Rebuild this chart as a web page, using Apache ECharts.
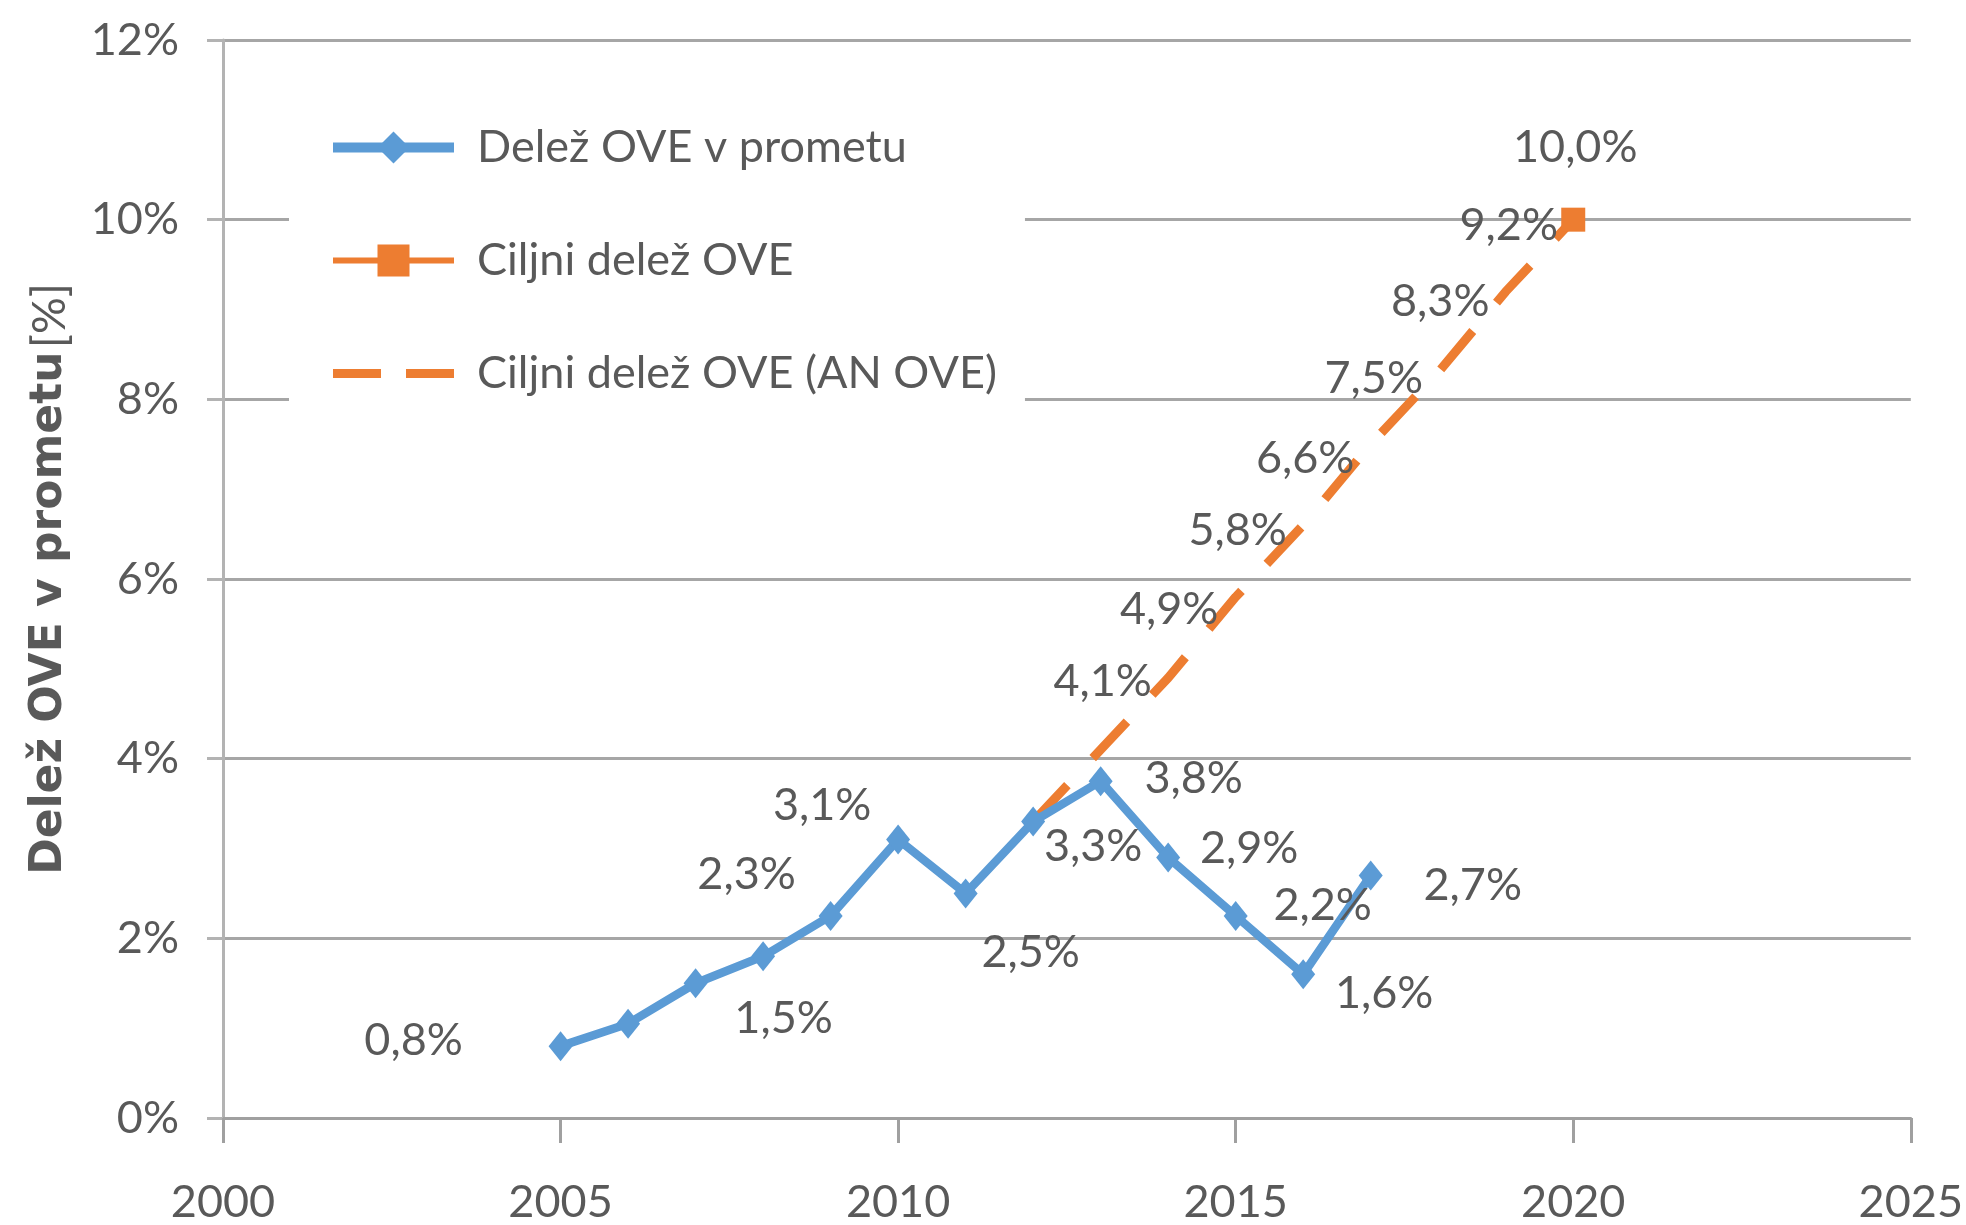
<!DOCTYPE html>
<html>
<head>
<meta charset="utf-8">
<script src="https://cdn.jsdelivr.net/npm/echarts@6/dist/echarts.min.js"></script>
<style>html,body{margin:0;padding:0;background:#fff}#c{width:1966px;height:1225px}</style>
</head>
<body>
<div id="c"></div>
<script>
// ---- data ----
const actualYears = [2005, 2006, 2007, 2008, 2009, 2010, 2011, 2012, 2013, 2014, 2015, 2016, 2017];
const actualValues = [0.8, 1.05, 1.5, 1.8, 2.25, 3.1, 2.5, 3.3, 3.75, 2.9, 2.25, 1.6, 2.7];
const actualLabels = ['0,8%', '', '1,5%', '', '2,3%', '3,1%', '2,5%', '3,3%', '3,8%', '2,9%', '2,2%', '1,6%', '2,7%'];
const targetYears = [2020];
const targetValues = [10.0];
const targetLabels = ['10,0%'];
const anYears = [2012, 2013, 2014, 2015, 2016, 2017, 2018, 2019, 2020];
const anValues = [3.3, 4.1, 4.9, 5.8, 6.6, 7.5, 8.3, 9.2, 10.0];
const anLabels = ['', '4,1%', '4,9%', '5,8%', '6,6%', '7,5%', '8,3%', '9,2%', ''];
const yTicks = [0, 2, 4, 6, 8, 10, 12];
const xTicks = [2000, 2005, 2010, 2015, 2020, 2025];
const seriesNames = ['Delež OVE v prometu', 'Ciljni delež OVE', 'Ciljni delež OVE (AN OVE)'];
const yAxisTitle = ['Delež OVE v prometu', '[%]'];

// ---- label placement (styling) ----
const actualOffsets = [[-147, -6], [0, 0], [88, 35], [0, 0], [-84, -41], [-76, -34], [65, 59], [60, 25], [93, -3], [81, -9], [87, -10], [81, 19], [102, 10]];
const anOffsets = [[0, 0], [2, -68], [1, -68], [2, -66], [2, -67], [3, -66], [2, -71], [3, -66], [0, 0]];
const targetOffsets = [[2, -72]];

const FONT = 'Lato, "Open Sans", sans-serif';
const TXT = '#595959';
const BLUE = '#5B9BD5';
const ORANGE = '#ED7D31';
const FS = 45;

function build(years, values, labels, offsets) {
  return years.map((y, i) => ({
    value: [y, values[i]],
    label: {
      show: labels[i] !== '',
      formatter: labels[i],
      position: 'inside',
      offset: offsets[i]
    }
  }));
}

const labelStyle = { color: TXT, fontSize: FS, fontFamily: FONT };

const chart = echarts.init(document.getElementById('c'), null, { renderer: 'canvas' });
chart.setOption({
  backgroundColor: '#fff',
  animation: false,
  grid: { left: 223, right: 53, top: 40, bottom: 105, containLabel: false },
  legend: {
    orient: 'vertical',
    left: 289,
    top: 80,
    padding: [45, 28, 45, 39],
    backgroundColor: '#fff',
    itemWidth: 121,
    itemHeight: 40,
    itemGap: 68,
    textStyle: { color: TXT, fontSize: FS, fontFamily: FONT, lineHeight: 45, padding: [0, 0, 0, 18] },
    data: [
      { name: seriesNames[0], lineStyle: { width: 10, color: BLUE } },
      { name: seriesNames[1], lineStyle: { width: 6, color: ORANGE } },
      { name: seriesNames[2], lineStyle: { width: 9, color: ORANGE, type: [48, 25] } }
    ]
  },
  xAxis: {
    type: 'value',
    min: xTicks[0],
    max: xTicks[xTicks.length - 1],
    interval: 5,
    axisLine: { show: true, lineStyle: { color: '#a0a0a0', width: 3 } },
    axisTick: { show: true, length: 25, lineStyle: { color: '#a0a0a0', width: 3 } },
    splitLine: { show: false },
    axisLabel: { color: TXT, fontSize: FS, fontFamily: FONT, margin: 62, formatter: v => String(v) }
  },
  yAxis: {
    type: 'value',
    min: yTicks[0],
    max: yTicks[yTicks.length - 1],
    interval: 2,
    name: '{b|' + yAxisTitle[0] + '} {n|' + yAxisTitle[1] + '}',
    nameLocation: 'middle',
    nameGap: 150,
    nameRotate: 90,
    nameTextStyle: {
      rich: {
        b: { fontSize: 44, fontWeight: 'bold', color: TXT, fontFamily: '"DejaVu Sans", sans-serif' },
        n: { fontSize: 46, color: TXT, fontFamily: FONT }
      }
    },
    axisLine: { show: true, lineStyle: { color: '#b3b3b3', width: 3 } },
    axisTick: { show: true, length: 16, lineStyle: { color: '#b3b3b3', width: 3 } },
    splitLine: { show: true, lineStyle: { color: '#a6a6a6', width: 3 } },
    axisLabel: { color: TXT, fontSize: FS, fontFamily: FONT, margin: 44, formatter: v => v + '%' }
  },
  series: [
    {
      name: seriesNames[0],
      type: 'line',
      data: build(actualYears, actualValues, actualLabels, actualOffsets),
      symbol: 'diamond',
      symbolSize: [24, 30],
      lineStyle: { color: BLUE, width: 8.5 },
      itemStyle: { color: BLUE },
      label: labelStyle,
      z: 3
    },
    {
      name: seriesNames[1],
      type: 'line',
      data: build(targetYears, targetValues, targetLabels, targetOffsets),
      symbol: 'rect',
      symbolSize: 24,
      lineStyle: { color: ORANGE, width: 6 },
      itemStyle: { color: ORANGE },
      label: labelStyle,
      z: 4
    },
    {
      name: seriesNames[2],
      type: 'line',
      data: build(anYears, anValues, anLabels, anOffsets),
      symbol: 'circle',
      symbolSize: 1,
      showSymbol: true,
      lineStyle: { color: ORANGE, width: 9, type: [50, 37], cap: 'butt' },
      itemStyle: { color: 'rgba(0,0,0,0)' },
      label: labelStyle,
      z: 2
    }
  ]
});
</script>
</body>
</html>
